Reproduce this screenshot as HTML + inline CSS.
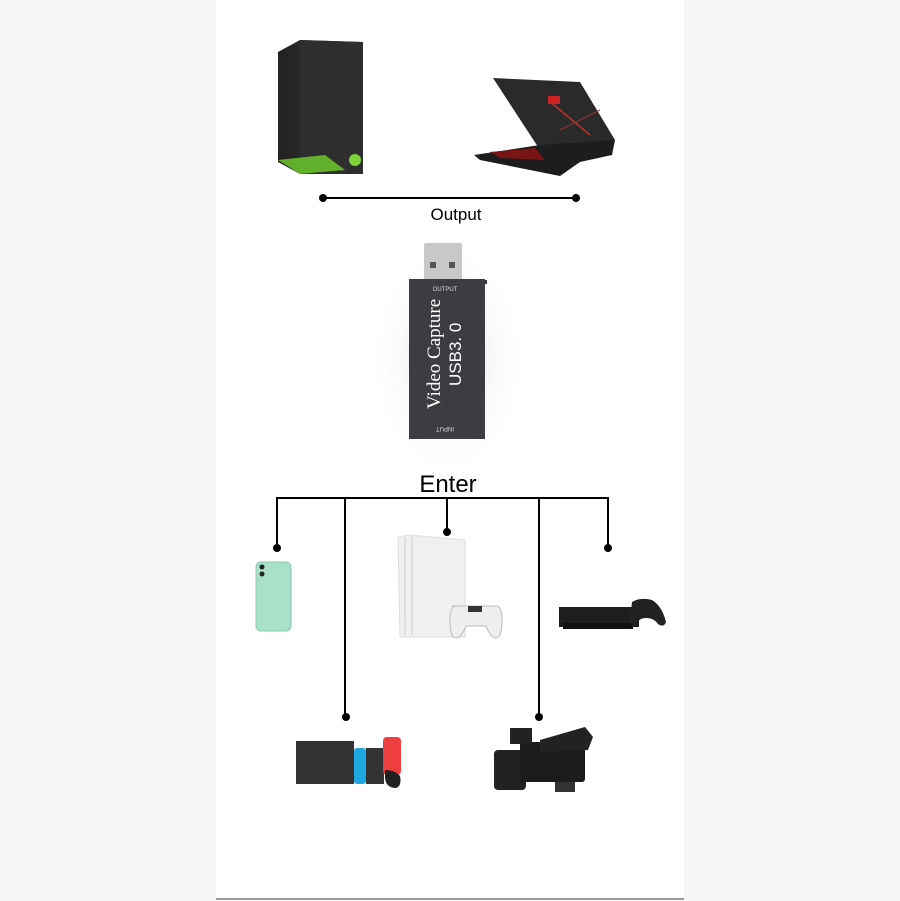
<!DOCTYPE html>
<html><head><style>
html,body{margin:0;padding:0;}
body{width:900px;height:901px;background:#f5f5f5;position:relative;overflow:hidden;font-family:"Liberation Sans",sans-serif;}
</style></head><body>
<svg width="900" height="901" style="position:absolute;left:0;top:0">
<defs>
<linearGradient id="tw" x1="0" x2="1"><stop offset="0" stop-color="#222"/><stop offset="1" stop-color="#3a3a3a"/></linearGradient>
<radialGradient id="sh"><stop offset="0" stop-color="#ddd"/><stop offset="1" stop-color="#fff" stop-opacity="0"/></radialGradient>
</defs>
<rect x="216" y="0" width="468" height="901" fill="#fff"/>
<line x1="216" y1="899" x2="684" y2="899" stroke="#999" stroke-width="2"/>
<!-- tower -->
<polygon points="278,52 300,40 363,42 363,174 300,174 278,162" fill="url(#tw)"/>
<polygon points="300,40 363,42 363,174 300,174" fill="#2e2e2e"/>
<polygon points="278,160 300,174 345,170 325,155" fill="#6fd12a" opacity="0.8"/>
<circle cx="355" cy="160" r="6" fill="#7cd43a"/>
<!-- laptop -->
<polygon points="493,78 580,82 615,140 612,148 540,150" fill="#2a2a2a"/>
<line x1="548" y1="100" x2="590" y2="135" stroke="#b33" stroke-width="1.5"/>
<line x1="560" y1="130" x2="600" y2="110" stroke="#933" stroke-width="1"/>
<rect x="548" y="96" width="12" height="8" fill="#c22"/>
<polygon points="474,155 540,145 615,140 612,155 580,162 560,176 540,172 480,160" fill="#1d1d1d"/>
<polygon points="490,152 535,148 545,160 500,158" fill="#7a1515"/>
<!-- output line -->
<line x1="323" y1="198" x2="576" y2="198" stroke="#000" stroke-width="2"/>
<circle cx="323" cy="198" r="4"/><circle cx="576" cy="198" r="4"/>
<text x="456" y="220" font-size="17" text-anchor="middle" font-family="Liberation Sans">Output</text>
<!-- usb -->
<ellipse cx="448" cy="360" rx="80" ry="120" fill="url(#sh)"/>
<rect x="424" y="243" width="38" height="40" rx="2" fill="#c8c8c8"/>
<rect x="430" y="262" width="6" height="6" fill="#555"/><rect x="449" y="262" width="6" height="6" fill="#555"/>
<rect x="475" y="280" width="12" height="4" fill="#333"/>
<rect x="409" y="279" width="76" height="160" fill="#3b3d40"/>
<text x="445" y="291" font-size="6" fill="#ddd" text-anchor="middle">OUTPUT</text>
<text x="445" y="431" font-size="6" fill="#ddd" text-anchor="middle" transform="rotate(180 445 429)">INPUT</text>
<text transform="translate(440,409) rotate(-90)" font-size="19" fill="#fff" font-family="Liberation Serif">Video Capture</text>
<text transform="translate(461,386) rotate(-90)" font-size="17" fill="#fff" font-family="Liberation Sans">USB3. 0</text>
<!-- enter -->
<text x="448" y="492" font-size="24" text-anchor="middle">Enter</text>
<g stroke="#000" stroke-width="2" fill="none">
<polyline points="277,548 277,498 608,498 608,548"/>
<line x1="345" y1="498" x2="345" y2="717"/>
<line x1="447" y1="498" x2="447" y2="532"/>
<line x1="539" y1="498" x2="539" y2="717"/>
</g>
<circle cx="277" cy="548" r="4"/><circle cx="447" cy="532" r="4"/><circle cx="608" cy="548" r="4"/>
<circle cx="346" cy="717" r="4"/><circle cx="539" cy="717" r="4"/>
<!-- phone -->
<rect x="256" y="562" width="35" height="69" rx="5" fill="#a8e0c8" stroke="#8bc8ae"/>
<circle cx="262" cy="567" r="2.5" fill="#222"/><circle cx="262" cy="574" r="2.5" fill="#222"/>
<!-- ps4 -->
<polygon points="398,537 410,535 465,540 465,637 400,637" fill="#f0f0f0" stroke="#ddd"/>
<line x1="405" y1="537" x2="405" y2="635" stroke="#ccc"/><line x1="412" y1="537" x2="412" y2="635" stroke="#ccc"/>
<path d="M452,606 h44 q6,0 6,14 q0,18 -6,18 q-5,0 -10,-12 h-20 q-5,12 -10,12 q-6,0 -6,-18 q0,-14 6,-14z" fill="#eee" stroke="#bbb"/>
<rect x="468" y="606" width="14" height="6" fill="#333"/>
<!-- xbox -->
<rect x="559" y="607" width="80" height="20" fill="#1e1e1e"/>
<rect x="563" y="623" width="70" height="6" fill="#111"/>
<path d="M632,602 q8,-5 20,-2 q10,6 14,22 q-2,6 -8,2 q-4,-6 -12,-6 q-8,0 -10,8 q-6,2 -6,-6z" fill="#222"/>
<!-- switch -->
<rect x="296" y="741" width="58" height="43" fill="#333"/>
<rect x="354" y="748" width="12" height="36" rx="3" fill="#1fa7e0"/>
<rect x="366" y="748" width="18" height="36" fill="#333"/>
<rect x="383" y="737" width="18" height="38" rx="4" fill="#ef3e3e"/>
<path d="M385,770 q10,0 15,6 q2,10 -4,12 q-10,0 -11,-10z" fill="#222"/>
<!-- camera -->
<rect x="494" y="750" width="32" height="40" rx="4" fill="#222"/>
<rect x="520" y="742" width="65" height="40" rx="3" fill="#1b1b1b"/>
<rect x="510" y="728" width="22" height="16" fill="#222"/>
<polygon points="540,740 585,727 593,737 588,750 540,752" fill="#222"/>
<rect x="555" y="782" width="20" height="10" fill="#333"/>
</svg>
</body></html>
